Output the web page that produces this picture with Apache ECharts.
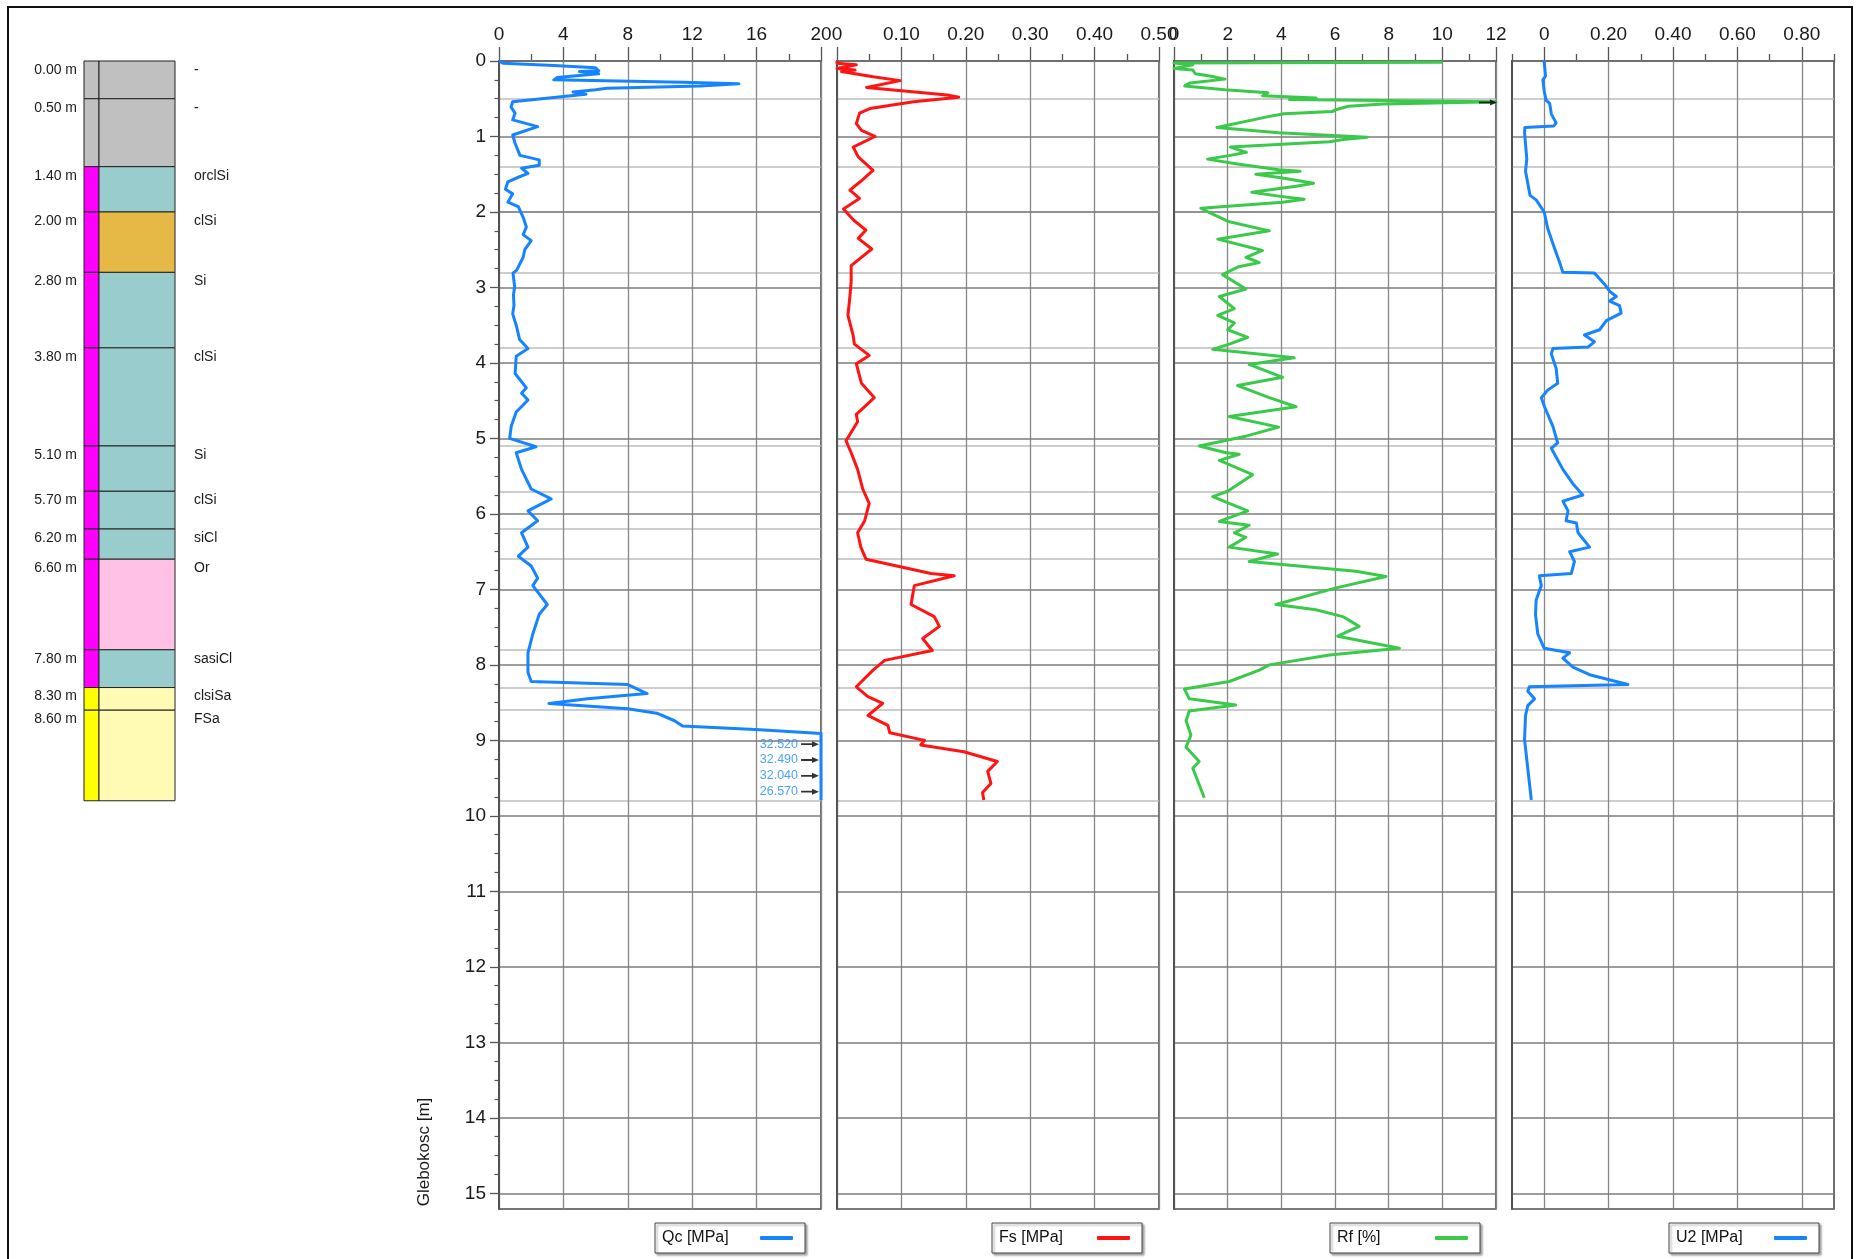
<!DOCTYPE html>
<html>
<head>
<meta charset="utf-8">
<script src="https://cdn.jsdelivr.net/npm/echarts@6/dist/echarts.min.js"></script>
<style>
html,body{margin:0;padding:0;background:#fff;}
#chart{width:1865px;height:1259px;}
</style>
</head>
<body>
<div id="chart"></div>
<script>
// ---------------- DATA ----------------
// Soil layers (depth in m)
const layerTop    = [0.00, 0.50, 1.40, 2.00, 2.80, 3.80, 5.10, 5.70, 6.20, 6.60, 7.80, 8.30, 8.60];
const layerBottom = [0.50, 1.40, 2.00, 2.80, 3.80, 5.10, 5.70, 6.20, 6.60, 7.80, 8.30, 8.60, 9.80];
const layerName   = ['-', '-', 'orclSi', 'clSi', 'Si', 'clSi', 'Si', 'clSi', 'siCl', 'Or', 'sasiCl', 'clsiSa', 'FSa'];
const layerFill   = ['#c0c0c0', '#c0c0c0', '#99cccc', '#e6b845', '#99cccc', '#99cccc', '#99cccc', '#99cccc', '#99cccc', '#ffc2e6', '#99cccc', '#fffbb4', '#fffbb4'];
const layerStrip  = ['#c0c0c0', '#c0c0c0', '#ff00ff', '#ff00ff', '#ff00ff', '#ff00ff', '#ff00ff', '#ff00ff', '#ff00ff', '#ff00ff', '#ff00ff', '#ffff00', '#ffff00'];

// Tick labels
const depthTicks = [0, 1, 2, 3, 4, 5, 6, 7, 8, 9, 10, 11, 12, 13, 14, 15];
const u2MajorTicks = [0, 0.2, 0.4, 0.6, 0.8];
const u2MinorTicks = [-0.1, 0.1, 0.3, 0.5, 0.7, 0.9];

// Qc [MPa]  pairs: [depth m, value]
const qcProfile = [
 [0.00,0.0],[0.03,0.25],[0.06,3.4],[0.09,6.0],[0.13,6.2],[0.14,5.0],[0.17,6.2],[0.22,3.6],[0.25,3.4],
 [0.28,11.4],[0.30,14.9],[0.33,12.5],[0.36,6.7],[0.38,6.0],[0.41,4.6],[0.44,5.4],[0.47,4.0],[0.54,0.85],
 [0.61,0.75],[0.69,1.0],[0.78,0.85],[0.87,2.4],[0.98,0.85],[1.09,1.0],[1.25,1.3],[1.31,2.5],[1.38,2.5],
 [1.42,1.4],[1.49,1.8],[1.54,1.2],[1.60,0.55],[1.70,0.4],[1.76,0.85],[1.87,0.55],[1.93,1.2],[2.07,1.5],
 [2.20,1.7],[2.30,1.5],[2.38,2.0],[2.50,1.6],[2.60,1.5],[2.77,1.1],[2.81,0.87],[2.99,0.97],[3.10,0.9],
 [3.24,0.93],[3.35,0.85],[3.50,1.07],[3.69,1.28],[3.81,1.8],[3.91,1.07],[4.14,1.0],[4.33,1.7],[4.40,1.4],
 [4.49,1.8],[4.65,1.07],[4.84,0.76],[5.00,0.66],[5.11,2.3],[5.19,1.07],[5.41,1.4],[5.67,2.0],[5.80,3.24],
 [5.96,1.8],[6.09,2.4],[6.25,1.4],[6.44,1.8],[6.56,1.2],[6.69,2.0],[6.85,2.4],[6.95,2.1],[7.20,3.0],
 [7.33,2.5],[7.59,2.1],[7.84,1.8],[8.10,1.8],[8.22,2.0],[8.26,8.0],[8.38,9.2],[8.45,5.5],[8.51,3.1],
 [8.58,8.0],[8.64,9.8],[8.74,10.9],[8.81,11.4],[8.86,16.2],[8.91,20.0],[9.79,20.0]
];
// Off-scale Qc readings (annotated)
const qcOffDepth = [9.05, 9.26, 9.47, 9.68];
const qcOffValue = [32.520, 32.490, 32.040, 26.570];

// Fs [MPa]
const fsProfile = [
 [0.00,0.0],[0.03,0.0],[0.05,0.03],[0.10,0.0],[0.12,0.028],[0.14,0.007],[0.21,0.056],[0.26,0.098],
 [0.35,0.046],[0.45,0.171],[0.48,0.189],[0.54,0.119],[0.63,0.051],[0.69,0.035],[0.83,0.03],[0.92,0.038],
 [1.00,0.059],[1.14,0.025],[1.27,0.033],[1.45,0.056],[1.60,0.036],[1.71,0.02],[1.82,0.035],[1.96,0.01],
 [2.11,0.026],[2.24,0.045],[2.35,0.033],[2.49,0.054],[2.71,0.022],[2.92,0.022],[3.12,0.020],[3.37,0.017],
 [3.63,0.025],[3.75,0.027],[3.90,0.05],[4.01,0.03],[4.27,0.038],[4.46,0.058],[4.68,0.03],[4.78,0.032],
 [5.03,0.014],[5.19,0.022],[5.41,0.032],[5.67,0.04],[5.86,0.05],[6.09,0.043],[6.25,0.032],[6.44,0.037],
 [6.60,0.045],[6.79,0.146],[6.82,0.182],[6.95,0.12],[7.20,0.115],[7.36,0.151],[7.49,0.159],[7.65,0.133],
 [7.81,0.148],[7.94,0.074],[8.07,0.056],[8.29,0.03],[8.42,0.048],[8.51,0.071],[8.67,0.048],[8.80,0.079],
 [8.90,0.082],[9.00,0.136],[9.06,0.13],[9.15,0.197],[9.28,0.249],[9.41,0.234],[9.57,0.239],[9.69,0.226],
 [9.79,0.228]
];

// Rf [%]
const rfProfile = [
 [0.015,10.0],[0.025,0.0],[0.05,0.7],[0.08,0.3],[0.10,0.0],[0.12,0.7],[0.17,0.8],[0.21,1.5],[0.24,1.9],
 [0.29,0.6],[0.33,0.4],[0.38,1.9],[0.42,3.5],[0.46,3.3],[0.49,5.3],[0.51,4.3],[0.54,12.0],[0.57,7.8],
 [0.60,6.5],[0.65,6.0],[0.67,5.9],[0.70,4.1],[0.73,3.6],[0.88,1.6],[0.95,3.9],[1.01,7.2],[1.04,6.3],
 [1.07,5.8],[1.14,2.1],[1.21,2.7],[1.25,2.1],[1.30,1.25],[1.36,2.3],[1.44,3.9],[1.46,4.7],[1.50,3.05],
 [1.55,4.05],[1.62,5.2],[1.66,4.55],[1.74,2.9],[1.79,3.9],[1.83,4.85],[1.87,4.05],[1.95,1.0],[2.03,1.44],
 [2.13,2.06],[2.25,3.55],[2.36,1.63],[2.51,3.3],[2.60,2.68],[2.67,3.18],[2.73,2.37],[2.83,1.81],[3.02,2.68],
 [3.12,1.69],[3.28,2.25],[3.37,1.63],[3.47,2.25],[3.56,2.0],[3.66,2.75],[3.75,2.06],[3.82,1.44],[3.93,4.48],
 [4.02,2.8],[4.19,4.05],[4.30,2.37],[4.46,3.55],[4.58,4.55],[4.71,2.06],[4.85,3.9],[4.97,2.68],[5.10,0.94],
 [5.19,1.94],[5.21,2.43],[5.29,1.69],[5.48,2.93],[5.70,2.0],[5.77,1.44],[5.96,2.75],[6.10,1.69],[6.15,2.8],
 [6.25,2.25],[6.31,2.68],[6.44,2.06],[6.53,3.86],[6.63,2.8],[6.76,6.78],[6.83,7.9],[6.98,6.04],[7.20,3.8],
 [7.27,5.29],[7.36,6.29],[7.49,6.9],[7.62,6.1],[7.78,8.4],[7.87,5.79],[8.00,3.55],[8.07,3.18],[8.22,2.06],
 [8.32,0.39],[8.45,0.57],[8.53,2.3],[8.61,0.57],[8.74,0.45],[8.93,0.63],[9.09,0.45],[9.28,0.94],[9.37,0.7],
 [9.76,1.13]
];
const rfOffDepth = [0.55];

// U2 [MPa]
const u2Profile = [
 [0.00,0.0],[0.20,0.004],[0.25,-0.004],[0.40,0.0],[0.52,0.006],[0.56,0.017],[0.70,0.022],[0.82,0.037],
 [0.86,0.03],[0.88,-0.06],[0.95,-0.061],[1.30,-0.054],[1.46,-0.058],[1.78,-0.044],[1.84,-0.025],[2.00,0.0],
 [2.22,0.011],[2.48,0.032],[2.67,0.048],[2.80,0.058],[2.81,0.156],[2.86,0.167],[2.96,0.188],[3.05,0.203],
 [3.12,0.224],[3.18,0.203],[3.24,0.234],[3.34,0.239],[3.44,0.193],[3.56,0.172],[3.63,0.125],[3.72,0.156],
 [3.79,0.136],[3.81,0.027],[3.88,0.022],[4.07,0.037],[4.27,0.042],[4.36,0.011],[4.46,-0.009],[4.58,0.001],
 [4.84,0.027],[5.06,0.042],[5.13,0.022],[5.41,0.058],[5.60,0.089],[5.75,0.12],[5.83,0.058],[5.96,0.074],
 [6.09,0.068],[6.12,0.1],[6.25,0.105],[6.44,0.141],[6.50,0.079],[6.63,0.094],[6.79,0.084],[6.82,-0.015],
 [6.95,-0.009],[7.14,-0.025],[7.33,-0.027],[7.59,-0.02],[7.78,0.0],[7.84,0.079],[7.91,0.058],[8.03,0.089],
 [8.13,0.141],[8.26,0.26],[8.29,-0.046],[8.35,-0.051],[8.45,-0.03],[8.54,-0.051],[8.67,-0.058],[8.99,-0.061],
 [9.37,-0.051],[9.79,-0.04]
];

// ---------------- LAYOUT / STYLE ----------------
const FONT = 'Liberation Sans, Arial, sans-serif';
const GRID_TOP = 61, GRID_H = 1148, PANEL_W = 322;
const DEPTH_MAX = 15.208;
const panelLeft = [499, 837, 1174, 1512];
const QC_MAX = 20, FS_MAX = 0.5, RF_MAX = 12;
const AXIS_COLOR = '#555';
const GRID_COLOR = '#878787';
const LAYER_COLOR = '#bdbdbd';
const BLUE = '#1684ff', RED = '#ff1414', GREEN = '#3bc94b';

const boundaries = layerTop.slice(1).concat([layerBottom[layerBottom.length - 1]]);
const quarterTicks = [];
for (let q = 0; q <= 60; q++) { if (q % 4 !== 0) quarterTicks.push(q / 4); }

const grids = panelLeft.map(l => ({
  left: l, top: GRID_TOP, width: PANEL_W, height: GRID_H,
  show: true, borderColor: '#4a4a4a', borderWidth: 1.6, backgroundColor: 'transparent',
  containLabel: false, outerBoundsMode: 'none'
}));
grids.push({ left: 84, top: GRID_TOP, width: 91, height: GRID_H, show: false, containLabel: false, outerBoundsMode: 'none' });

const topLabel = { show: true, fontSize: 19, fontFamily: FONT, color: '#1a1a1a', margin: 17 };
const topTick = { show: true, inside: false, length: 14, lineStyle: { color: AXIS_COLOR, width: 1.3 } };
const topMinor = { show: true, splitNumber: 2, length: 7, lineStyle: { color: AXIS_COLOR, width: 1.3 } };
const topLine = { show: true, onZero: false, lineStyle: { color: '#4a4a4a', width: 2 } };
const vSplit = { show: true, lineStyle: { color: GRID_COLOR, width: 1.3 } };

const xAxes = [
  { gridIndex: 0, type: 'value', position: 'top', min: 0, max: QC_MAX, interval: 4,
    axisLine: topLine, axisTick: topTick, minorTick: topMinor, axisLabel: topLabel, splitLine: vSplit },
  { gridIndex: 1, type: 'value', position: 'top', min: 0, max: FS_MAX, interval: 0.1,
    axisLine: topLine, axisTick: topTick, minorTick: topMinor,
    axisLabel: Object.assign({}, topLabel, { formatter: v => (v === 0 ? '0' : v.toFixed(2)) }), splitLine: vSplit },
  { gridIndex: 2, type: 'value', position: 'top', min: 0, max: RF_MAX, interval: 2,
    axisLine: topLine, axisTick: topTick, minorTick: topMinor, axisLabel: topLabel, splitLine: vSplit },
  { gridIndex: 3, type: 'value', position: 'top', min: -0.1, max: 0.9, interval: 0.1,
    axisLine: topLine,
    axisTick: Object.assign({}, topTick, { customValues: u2MajorTicks }),
    axisLabel: Object.assign({}, topLabel, { customValues: u2MajorTicks, formatter: v => (Math.abs(v) < 1e-9 ? '0' : v.toFixed(2)) }),
    splitLine: vSplit },
  { gridIndex: 3, type: 'value', position: 'top', offset: 0, min: -0.1, max: 0.9, interval: 0.1,
    axisLine: { show: false, onZero: false },
    axisTick: { show: true, length: 7, customValues: u2MinorTicks, lineStyle: { color: AXIS_COLOR, width: 1.3 } },
    axisLabel: { show: false }, splitLine: { show: false } },
  { gridIndex: 4, type: 'value', min: 0, max: 1, show: false }
];

const yMain = (gi) => ({
  gridIndex: gi, type: 'value', inverse: true, min: 0, max: DEPTH_MAX, interval: 1, position: 'left', z: 1,
  axisLine: { show: true, onZero: false, lineStyle: { color: '#4a4a4a', width: 1.6 } },
  axisTick: gi === 0 ? { show: true, inside: false, length: 9, customValues: depthTicks, lineStyle: { color: AXIS_COLOR, width: 1.3 } } : { show: false },
  axisLabel: gi === 0 ? { show: true, customValues: depthTicks, fontSize: 19, fontFamily: FONT, color: '#1a1a1a', margin: 13 } : { show: false },
  splitLine: { show: true, lineStyle: { color: '#7d7d7d', width: 1.6 } }
});
const yLayer = (gi) => ({
  gridIndex: gi, type: 'value', inverse: true, min: 0, max: DEPTH_MAX, position: 'left', offset: 0, z: 0,
  axisLine: { show: false, onZero: false },
  axisTick: { show: false, customValues: boundaries },
  axisLabel: { show: false },
  splitLine: { show: true, lineStyle: { color: LAYER_COLOR, width: 1.5 } }
});
const yAxes = [yMain(0), yMain(1), yMain(2), yMain(3), yLayer(0), yLayer(1), yLayer(2), yLayer(3),
  { gridIndex: 0, type: 'value', inverse: true, min: 0, max: DEPTH_MAX, position: 'left', offset: 0,
    axisLine: { show: false, onZero: false }, axisLabel: { show: false }, splitLine: { show: false },
    axisTick: { show: true, inside: false, length: 4.5, customValues: quarterTicks, lineStyle: { color: AXIS_COLOR, width: 1.2 } } },
  { gridIndex: 4, type: 'value', inverse: true, min: 0, max: DEPTH_MAX, show: false }
];

const ARROW = 'path://M0,4.4L11,4.4L11,3L18,5L11,7L11,5.6L0,5.6Z';

const lineSeries = (name, profile, xi, yi, color) => ({
  name, type: 'line', xAxisIndex: xi, yAxisIndex: yi,
  data: profile.map(p => [p[1], p[0]]),
  symbol: 'none', showSymbol: false, smooth: false, clip: false, z: 3,
  lineStyle: { color, width: 3, join: 'round' }, itemStyle: { color }
});

function legend(name, left) {
  return {
    data: [name], left, top: 1223, orient: 'horizontal', align: 'right', icon: 'roundRect',
    itemWidth: 33, itemHeight: 4, padding: [7, 12, 7, 7], itemGap: 0,
    borderColor: '#444', borderWidth: 1, backgroundColor: '#fff',
    shadowColor: 'rgba(0,0,0,0.35)', shadowBlur: 2, shadowOffsetX: 2, shadowOffsetY: 2,
    selectedMode: false,
    formatter: n => '{t|' + n + '}',
    textStyle: { rich: { t: { width: 93, align: 'left', fontSize: 16, fontFamily: FONT, color: '#111', lineHeight: 17 } } }
  };
}

const option = {
  animation: false,
  backgroundColor: '#fff',
  grid: grids,
  xAxis: xAxes,
  yAxis: yAxes,
  legend: [legend('Qc [MPa]', 655), legend('Fs [MPa]', 992), legend('Rf [%]', 1330), legend('U2 [MPa]', 1669)],
  graphic: [
    { type: 'rect', shape: { x: 8, y: 7, width: 1844, height: 1280 }, style: { fill: 'none', stroke: '#111', lineWidth: 2 }, z: 100 },
    { type: 'text', x: 424, y: 1152, rotation: Math.PI / 2,
      style: { text: 'Glebokosc [m]', fontSize: 17, fontFamily: FONT, fill: '#1a1a1a', align: 'center', verticalAlign: 'middle' } }
  ],
  series: [
    lineSeries('Qc [MPa]', qcProfile, 0, 0, BLUE),
    {
      type: 'scatter', xAxisIndex: 0, yAxisIndex: 0, z: 4,
      data: qcOffDepth.map((d, i) => [Math.min(qcOffValue[i], QC_MAX), d, qcOffValue[i]]),
      symbol: ARROW, symbolSize: [18, 6], symbolOffset: [-11, 0], itemStyle: { color: '#000' },
      label: { show: true, position: 'left', distance: 3, fontSize: 12.5, fontFamily: FONT, color: '#1f88ff',
        formatter: p => p.value[2].toFixed(3) }
    },
    lineSeries('Fs [MPa]', fsProfile, 1, 1, RED),
    lineSeries('Rf [%]', rfProfile, 2, 2, GREEN),
    {
      type: 'scatter', xAxisIndex: 2, yAxisIndex: 2, z: 4,
      data: rfOffDepth.map(d => [RF_MAX, d]),
      symbol: ARROW, symbolSize: [18, 6], symbolOffset: [-8, 0], itemStyle: { color: '#000' }
    },
    lineSeries('U2 [MPa]', u2Profile, 3, 3, BLUE),
    {
      type: 'custom', xAxisIndex: 5, yAxisIndex: 9, clip: false,
      data: layerTop.map((t, i) => [t, layerBottom[i]]),
      encode: { y: [0, 1] },
      renderItem: function (params, api) {
        const i = params.dataIndex;
        const top = api.value(0), bot = api.value(1);
        const a = api.coord([0, top]);
        const b = api.coord([1, bot]);
        const x0 = a[0], y0 = a[1], x1 = b[0], y1 = b[1];
        const stripW = 15;
        return {
          type: 'group',
          children: [
            { type: 'rect', shape: { x: x0, y: y0, width: stripW, height: y1 - y0 }, style: { fill: layerStrip[i], stroke: '#222', lineWidth: 1 } },
            { type: 'rect', shape: { x: x0 + stripW, y: y0, width: x1 - x0 - stripW, height: y1 - y0 }, style: { fill: layerFill[i], stroke: '#222', lineWidth: 1 } },
            { type: 'text', x: x0 - 7, y: y0 + 9, style: { text: top.toFixed(2) + ' m', fontSize: 14, fontFamily: FONT, fill: '#1a1a1a', align: 'right', verticalAlign: 'middle' } },
            { type: 'text', x: x1 + 19, y: y0 + 9, style: { text: layerName[i], fontSize: 14, fontFamily: FONT, fill: '#1a1a1a', align: 'left', verticalAlign: 'middle' } }
          ]
        };
      }
    }
  ]
};

const chart = echarts.init(document.getElementById('chart'), null, { renderer: 'canvas' });
chart.setOption(option);
</script>
</body>
</html>
